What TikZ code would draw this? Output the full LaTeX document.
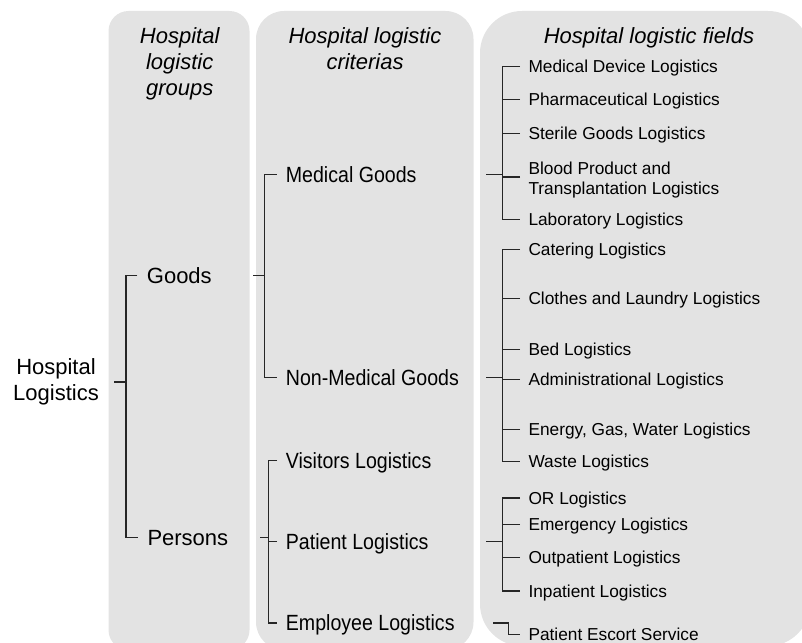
\documentclass[tikz,border=0pt]{standalone}
\usepackage{fontspec}
\setmainfont{Liberation Sans}
\newfontfamily\narrowfont[FakeStretch=0.89]{Liberation Sans}
\definecolor{panelgray}{HTML}{E3E3E3}
\definecolor{linegray}{HTML}{262626}

\begin{document}
\begin{tikzpicture}[x=1pt, y=-1pt,
    panel/.style={fill=panelgray},
    head/.style={anchor=north, align=center, inner sep=0pt, font=\fontsize{22}{26}\selectfont\itshape},
    big/.style={anchor=west, inner sep=0pt, font=\fontsize{22}{26}\selectfont, text height=15.8pt, text depth=0pt},
    mid/.style={big, font=\fontsize{22}{26}\selectfont\narrowfont},
    smallbase/.style={anchor=west, inner sep=0pt, align=left, font=\fontsize{17.3}{20}\selectfont},
    small/.style={smallbase, text height=12.4pt, text depth=0pt},
    link/.style={draw=linegray, line width=1.2pt}]
    \useasboundingbox (0,0) rectangle (802,642);
    \clip (0,0) rectangle (802,642);

    % Columns
    \fill[panel, rounded corners=20pt] (108.5,11) rectangle (249.5,650);
    \fill[panel, rounded corners=28pt] (256,11) rectangle (473.5,650);
    \fill[panel, rounded corners=42pt] (480,11) rectangle (810,646);

    % Headings
    \node[head] (h1) at (179.7,27.5) {Hospital\\logistic\\groups};
    \node[head] (h2) at (365,27.5) {Hospital logistic\\criterias};
    \node[head] (h3) at (649,27.5) {Hospital logistic fields};

    % Root
    \node[anchor=center, align=center, inner sep=0pt, font=\fontsize{22}{25.7}\selectfont] (hl) at (56,382) {Hospital\\Logistics};

    % Groups
    \node[big] (goods) at (146.7,275.2) {Goods};
    \node[big] (persons) at (147.3,537.2) {Persons};

    % Criterias
    \node[mid] (medgoods) at (285.7,174.3) {Medical Goods};
    \node[mid] (nonmed) at (285.7,377.8) {Non-Medical Goods};
    \node[mid] (visitors) at (285.7,460.2) {Visitors Logistics};
    \node[mid] (patient) at (285.7,541.4) {Patient Logistics};
    \node[mid] (employee) at (285.7,622.9) {Employee Logistics};

    % Fields
    \node[small] (mdl) at (528.3,66.4) {Medical Device Logistics};
    \node[small] (pha) at (528.3,99.3) {Pharmaceutical Logistics};
    \node[small] (ste) at (528.3,133.3) {Sterile Goods Logistics};
    \node[smallbase] (blo) at (528.3,180.4) {Blood Product and\\Transplantation Logistics};
    \node[small] (lab) at (528.3,219.7) {Laboratory Logistics};
    \node[small] (cat) at (528.3,249.3) {Catering Logistics};
    \node[small] (clo) at (528.3,298.3) {Clothes and Laundry Logistics};
    \node[small] (bed) at (528.3,349.2) {Bed Logistics};
    \node[small] (adm) at (528.3,379.2) {Administrational Logistics};
    \node[small] (ene) at (528.3,429.3) {Energy, Gas, Water Logistics};
    \node[small] (was) at (528.3,461.7) {Waste Logistics};
    \node[small] (orl) at (528.3,498) {OR Logistics};
    \node[small] (eme) at (528.3,524.2) {Emergency Logistics};
    \node[small] (out) at (528.3,557.7) {Outpatient Logistics};
    \node[small] (inp) at (528.3,591) {Inpatient Logistics};
    \node[small] (esc) at (528.3,634.5) {Patient Escort Service};

    % Trunks
    \coordinate (t1) at (126,0);
    \coordinate (t2) at (264.3,0);
    \coordinate (t2p) at (268.3,0);
    \coordinate (t3) at (502.3,0);
    \coordinate (t4) at (508.3,0);

    % Hospital Logistics -> groups
    \draw[link] (t1 |- hl) -- ++(-11.7,0);
    \draw[link] ([xshift=-9.3pt]goods.west) -- (t1 |- goods) -- (t1 |- persons) -- ([xshift=-9.3pt]persons.west);

    % Goods -> criterias
    \draw[link] (t2 |- goods) -- ++(-11,0);
    \draw[link] ([xshift=-9pt]medgoods.west) -- (t2 |- medgoods) -- (t2 |- nonmed) -- ([xshift=-9pt]nonmed.west);

    % Persons -> criterias
    \draw[link] (t2p |- persons) -- ++(-8.3,0);
    \draw[link] ([xshift=-8.7pt]visitors.west) -- (t2p |- visitors) -- (t2p |- employee) -- ([xshift=-8.7pt]employee.west);
    \draw[link] ([xshift=-8.7pt]patient.west) -- (t2p |- patient);

    % Medical Goods -> fields
    \draw[link] (t3 |- medgoods) -- ++(-16.6,0);
    \draw[link] ([xshift=-8.3pt]mdl.west) -- (t3 |- mdl) -- (t3 |- lab) -- ([xshift=-8.3pt]lab.west);
    \foreach \n in {pha,ste}
        \draw[link] ([xshift=-8.3pt]\n.west) -- (t3 |- \n);
    \draw[link] ([xshift=-8.3pt, yshift=3.5pt]blo.west) -- ++(-17.7,0);

    % Non-Medical Goods -> fields
    \draw[link] (t3 |- nonmed) -- ++(-16.6,0);
    \draw[link] ([xshift=-8.3pt]cat.west) -- (t3 |- cat) -- (t3 |- was) -- ([xshift=-8.3pt]was.west);
    \foreach \n in {clo,bed,adm,ene}
        \draw[link] ([xshift=-8.3pt]\n.west) -- (t3 |- \n);

    % Patient Logistics -> fields
    \draw[link] (t3 |- patient) -- ++(-16.6,0);
    \draw[link] ([xshift=-8.3pt]orl.west) -- (t3 |- orl) -- (t3 |- inp) -- ([xshift=-8.3pt]inp.west);
    \foreach \n in {eme,out}
        \draw[link] ([xshift=-8.3pt]\n.west) -- (t3 |- \n);

    % Employee Logistics -> escort
    \draw[link] (t4 |- employee) ++(-15,0) -- (t4 |- employee) -- (t4 |- esc) -- ([xshift=-8.3pt]esc.west);
\end{tikzpicture}
\end{document}
